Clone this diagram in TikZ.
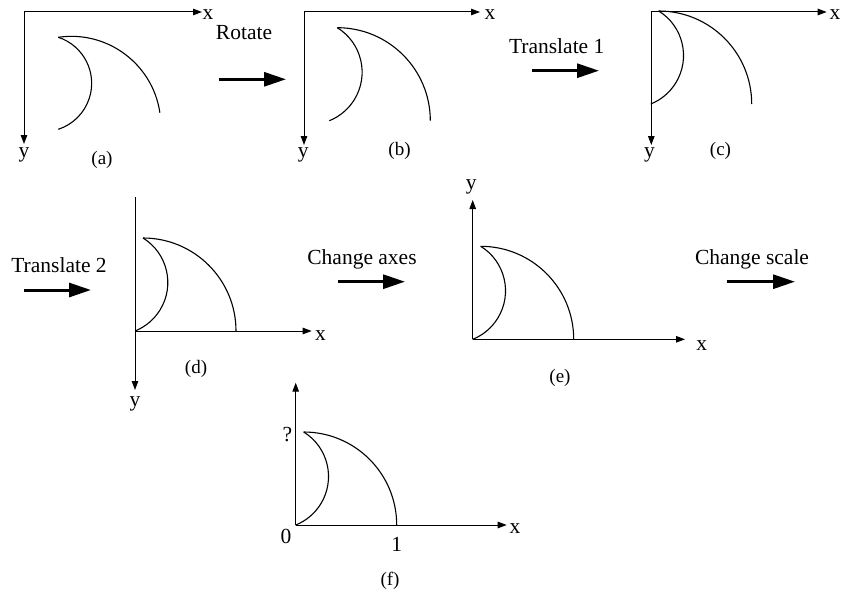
\documentclass[tikz,border=0pt]{standalone}
\usepackage{fontspec}
\setmainfont{Liberation Serif}
\usetikzlibrary{arrows.meta}
\tikzset{
  axline/.style={line width=1pt,-{Triangle[length=9pt,width=6.5pt]}},
  plainline/.style={line width=1pt},
  bigarrow/.style={line width=3pt,-{Triangle[length=22pt,width=14pt]}},
  finline/.style={line width=1.1pt},
  lbl/.style={inner sep=0pt,anchor=base,font=\fontsize{21.5}{25}\selectfont},
  sublbl/.style={inner sep=0pt,anchor=base,font=\fontsize{19}{23}\selectfont},
}
\newcommand\drawfin[1]{%
  \draw[finline] (#1) ++(8,-93) arc[start angle=-90,end angle=0,radius=93];
  \draw[finline] (#1) ++(8,-93) arc[start angle=-58.3,end angle=68.1,radius=52.3];}
\begin{document}
\begin{tikzpicture}[x=1pt,y=1pt,yscale=-1]
\useasboundingbox (0,0) rectangle (842,591);

% ---------- panel (a)
\coordinate (oa) at (24,12);
\coordinate (xa) at (202,12);
\coordinate (ya) at (24,144);
\draw[axline] (oa) -- (xa);
\draw[axline] (oa) -- (ya);
\node[lbl] (xla) at (208,19.3) {x};
\node[lbl] (yla) at (24,157.5) {y};
\node[sublbl] (capa) at (102,164.5) {(a)};
\coordinate (fa) at (58.3,37.3);
\draw[finline] (fa) arc[start angle=-98.4,end angle=-8.4,radius=89.5];
\draw[finline] (fa) arc[start angle=-71.9,end angle=71.9,radius=48.4];

% Rotate
\node[lbl] (trot) at (244,40) {Rotate};
\coordinate (r1) at (219,79.3);
\coordinate (r2) at (286,79.3);
\draw[bigarrow] (r1) -- (r2);

% ---------- panel (b)
\coordinate (ob) at (304,12);
\coordinate (xb) at (480,12);
\coordinate (yb) at (304,145);
\draw[axline] (ob) -- (xb);
\draw[axline] (ob) -- (yb);
\node[lbl] (xlb) at (490,19.3) {x};
\node[lbl] (ylb) at (303.3,157.5) {y};
\node[sublbl] (capb) at (399.5,155) {(b)};
\coordinate (fb) at (329.3,120.7);
\drawfin{fb}

% Translate 1
\node[lbl] (ttr1) at (556.7,53.3) {Translate 1};
\coordinate (t1a) at (532,70.7);
\coordinate (t1b) at (599,70.7);
\draw[bigarrow] (t1a) -- (t1b);

% ---------- panel (c)
\coordinate (oc) at (651.3,12);
\coordinate (xc) at (826.7,12);
\coordinate (yc) at (651.3,145);
\draw[axline] (oc) -- (xc);
\draw[axline] (oc) -- (yc);
\node[lbl] (xlc) at (835,19.3) {x};
\node[lbl] (ylc) at (649.5,157.5) {y};
\node[sublbl] (capc) at (720.5,155) {(c)};
\coordinate (fc) at (650.7,104);
\drawfin{fc}

% Translate 2
\node[lbl] (ttr2) at (59,272.7) {Translate 2};
\coordinate (t2a) at (24,290);
\coordinate (t2b) at (91,290);
\draw[bigarrow] (t2a) -- (t2b);

% ---------- panel (d)
\coordinate (od) at (135,331);
\coordinate (dtop) at (135,197);
\coordinate (xd) at (311.7,331);
\coordinate (yd) at (135,390);
\draw[plainline] (dtop) -- (od);
\draw[axline] (od) -- (xd);
\draw[axline] (od) -- (yd);
\node[lbl] (xld) at (320.5,340) {x};
\node[lbl] (yld) at (135,406) {y};
\node[sublbl] (capd) at (196,373.5) {(d)};
\drawfin{od}

% Change axes
\node[lbl] (tca) at (362,264.3) {Change axes};
\coordinate (caa) at (338,281.7);
\coordinate (cab) at (405,281.7);
\draw[bigarrow] (caa) -- (cab);

% ---------- panel (e)
\coordinate (oe) at (472.7,339.3);
\coordinate (xe) at (685,339.3);
\coordinate (ye) at (472.7,200);
\draw[axline] (oe) -- (xe);
\draw[axline] (oe) -- (ye);
\node[lbl] (xle) at (701.7,350) {x};
\node[lbl] (yle) at (471.3,189.5) {y};
\node[sublbl] (cape) at (560,382) {(e)};
\drawfin{oe}

% Change scale
\node[lbl] (tcs) at (752,264.3) {Change scale};
\coordinate (csa) at (726.7,281.7);
\coordinate (csb) at (795,281.7);
\draw[bigarrow] (csa) -- (csb);

% ---------- panel (f)
\coordinate (of) at (295.7,525);
\coordinate (xf) at (506.7,525);
\coordinate (yf) at (295.7,382.7);
\draw[axline] (of) -- (xf);
\draw[axline] (of) -- (yf);
\node[lbl] (xlf) at (515,533.3) {x};
\node[lbl] (qf) at (287.5,441.7) {?};
\node[lbl] (zf) at (286,543.3) {0};
\node[lbl] (onef) at (396.7,551) {1};
\node[sublbl] (capf) at (390,585) {(f)};
\drawfin{of}
\end{tikzpicture}
\end{document}
